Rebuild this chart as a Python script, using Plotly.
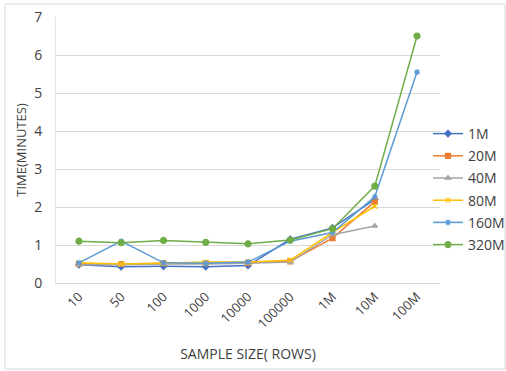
import plotly.graph_objects as go

categories = ["10", "50", "100", "1000", "10000", "100000", "1M", "10M", "100M"]
s_1M = [0.48, 0.43, 0.44, 0.43, 0.46, 1.15, 1.45, 2.2, None]
s_20M = [0.50, 0.50, 0.52, 0.52, 0.53, 0.57, 1.18, 2.14, None]
s_40M = [0.48, 0.48, 0.50, 0.50, 0.52, 0.55, 1.27, 1.50, None]
s_80M = [0.53, 0.50, 0.52, 0.55, 0.55, 0.60, 1.33, 2.02, None]
s_160M = [0.53, 1.10, 0.53, 0.52, 0.55, 1.10, 1.33, 2.27, 5.55]
s_320M = [1.10, 1.06, 1.12, 1.07, 1.03, 1.13, 1.43, 2.55, 6.50]
y_ticks = [0, 1, 2, 3, 4, 5, 6, 7]

series = [
    ("1M", s_1M, "#4472C4", "diamond", 5),
    ("20M", s_20M, "#ED7D31", "square", 5),
    ("40M", s_40M, "#A5A5A5", "triangle-up", 5),
    ("80M", s_80M, "#FFC000", "x-thin", 5),
    ("160M", s_160M, "#5B9BD5", "asterisk", 5),
    ("320M", s_320M, "#70AD47", "circle", 6),
]

fig = go.Figure()
for name, vals, col, sym, sz in series:
    fig.add_trace(go.Scatter(
        x=categories, y=vals, name=name, mode="lines+markers", legendgroup=name,
        line=dict(color=col, width=1.5),
        marker=dict(symbol=sym, size=sz, color=col, line=dict(color=col, width=1.2)),
    ))

W, H = 506, 371
L, R, T, B = 56, 440, 17, 283
pw, ph = R - L, B - T

def px(x):
    return (x - L) / pw

def py(y):
    return (B - y) / ph

fig.add_shape(type="rect", xref="paper", yref="paper",
              x0=px(5), x1=px(505), y0=py(369), y1=py(4),
              line=dict(color="#D9D9D9", width=1), layer="below")

fig.update_layout(
    width=W, height=H,
    margin=dict(l=L, r=W - R, t=T, b=H - B, autoexpand=False),
    paper_bgcolor="white", plot_bgcolor="white",
    font=dict(family="Open Sans, Liberation Sans, sans-serif", color="#404040", size=13),
    showlegend=True,
    legend=dict(x=px(428), y=py(118), xanchor="left", yanchor="top",
                font=dict(size=14, color="#404040"),
                itemwidth=30, tracegroupgap=1, bgcolor="rgba(0,0,0,0)"),
    xaxis=dict(type="category", categoryorder="array", categoryarray=categories,
               tickangle=-45, showgrid=False, showline=True, linecolor="#D9D9D9",
               ticks="", tickfont=dict(size=13, color="#404040"),
               title=dict(text="SAMPLE SIZE( ROWS)", font=dict(size=14, color="#404040"), standoff=18)),
    yaxis=dict(range=[0, 7], tickvals=y_ticks, showgrid=True, gridcolor="#D9D9D9",
               gridwidth=1, zeroline=False, showline=True, linecolor="#E6E6E6",
               ticks="", ticklen=0, ticklabelstandoff=10, tickfont=dict(size=14, color="#404040"),
               title=dict(text="TIME(MINUTES)", font=dict(size=13, color="#404040"), standoff=4)),
)

fig.write_html("out.html")
